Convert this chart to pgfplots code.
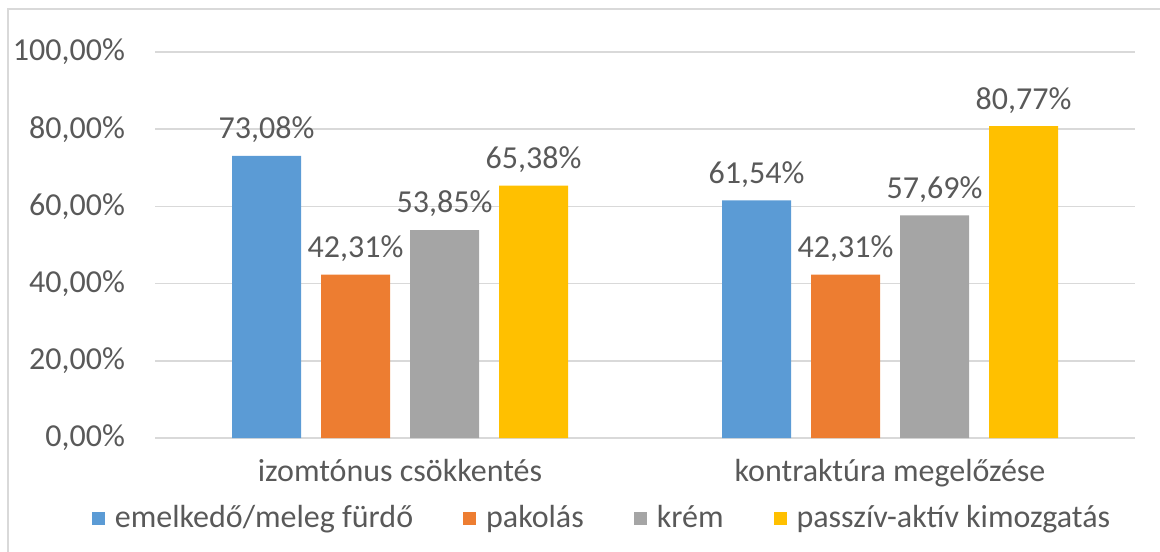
\documentclass[border=0pt]{standalone}
\usepackage{pgfplots}
\pgfplotsset{compat=1.18}
\usepackage{fontspec}
\setmainfont{Carlito}
\definecolor{cblue}{HTML}{5B9BD5}
\definecolor{corange}{HTML}{ED7D31}
\definecolor{cgray}{HTML}{A5A5A5}
\definecolor{cyellow}{HTML}{FFC000}
\definecolor{ctext}{HTML}{595959}
\definecolor{cgrid}{HTML}{D9D9D9}
\begin{document}
\begin{tikzpicture}
\path[use as bounding box] (0,0) rectangle (580pt,275.5pt);
\draw[cgrid, line width=1pt] (4pt,-1pt) -- (4pt,271pt) -- (581pt,271pt);
\begin{axis}[
  at={(77.5pt,56.5pt)}, anchor=south west,
  scale only axis, width=490pt, height=193pt,
  ybar=10pt, bar width=34.5pt,
  xmin=-0.5, xmax=1.5, ymin=0, ymax=100,
  xtick={0,1}, xticklabels={izomtónus csökkentés, kontraktúra megelőzése},
  ytick={0,20,40,60,80,100},
  yticklabel={\pgfmathprintnumber[fixed,fixed zerofill,precision=2,use comma]{\tick}\%},
  /pgf/number format/assume math mode=true,
  font=\fontsize{16pt}{19pt}\selectfont,
  ticklabel style={text=ctext, font=\fontsize{16pt}{19pt}\selectfont},
  yticklabel style={xshift=-11.5pt},
  xticklabel style={yshift=-7pt},
  major tick length=0pt,
  axis line style={draw=none},
  ymajorgrids, grid style={cgrid, line width=0.75pt},
  axis on top=false,
  nodes near coords={\pgfmathprintnumber[fixed,fixed zerofill,precision=2,use comma]{\pgfplotspointmeta}\%},
  nodes near coords style={text=ctext, font=\fontsize{16pt}{19pt}\selectfont, anchor=south, yshift=3pt},
  legend columns=4,
  legend style={draw=none, fill=none, at={(axis description cs:0.5,0)}, anchor=center, xshift=-21pt, yshift=-40pt,
    font=\fontsize{16pt}{19pt}\selectfont, text=ctext,
    /tikz/every odd column/.append style={column sep=3pt},
    /tikz/every even column/.append style={column sep=23pt}},
  legend image code/.code={\fill[#1] (0pt,-3.25pt) rectangle (6.5pt,3.25pt);},
]
\addplot[fill=cblue, draw=none] coordinates {(0,73.08) (1,61.54)};
\addplot[fill=corange, draw=none] coordinates {(0,42.31) (1,42.31)};
\addplot[fill=cgray, draw=none] coordinates {(0,53.85) (1,57.69)};
\addplot[fill=cyellow, draw=none] coordinates {(0,65.38) (1,80.77)};
\legend{emelkedő/meleg fürdő, pakolás, krém, passzív-aktív kimozgatás}
\end{axis}
\end{tikzpicture}
\end{document}
